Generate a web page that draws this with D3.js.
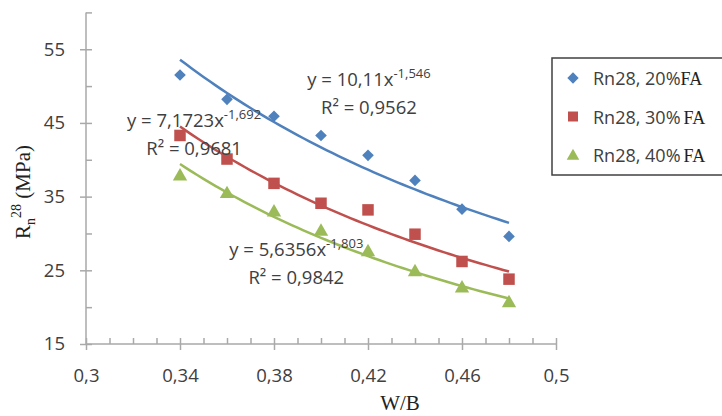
<!DOCTYPE html>
<html>
<head>
<meta charset="utf-8">
<script src="https://cdn.jsdelivr.net/npm/d3@7"></script>
<style>
  body { margin: 0; background: #fff; }
  svg { display: block; }
  .tick text { font-family: "Open Sans", sans-serif; font-size: 18.5px; fill: #404040; }
  .eq { font-family: "Open Sans", sans-serif; font-size: 18.5px; fill: #404040; }
</style>
</head>
<body>
<svg id="chart" width="722" height="416"></svg>
<script>
// W/B ratios on the x axis
const wb = [0.34, 0.36, 0.38, 0.40, 0.42, 0.44, 0.46, 0.48];
// 28-day strength, MPa
const fa20 = [51.5, 48.2, 45.9, 43.3, 40.6, 37.2, 33.3, 29.6];
const fa30 = [43.3, 40.1, 36.8, 34.1, 33.2, 29.9, 26.2, 23.8];
const fa40 = [37.9, 35.5, 33.0, 30.4, 27.6, 24.9, 22.7, 20.7];
const seriesNames = ["Rn28, 20%", "Rn28, 30%", "Rn28, 40%"];
// power trendlines y = a * x^b as printed on the chart
const trendA = [10.11, 7.1723, 5.6356];
const trendB = [-1.546, -1.692, -1.803];
const trendA_txt = ["10,11", "7,1723", "5,6356"];
const trendB_txt = ["-1,546", "-1,692", "-1,803"];
const r2_txt = ["0,9562", "0,9681", "0,9842"];

const xMajor = [0.3, 0.34, 0.38, 0.42, 0.46, 0.5];
const xMinor = [0.31, 0.32, 0.33, 0.35, 0.36, 0.37, 0.39, 0.40, 0.41, 0.43, 0.44, 0.45, 0.47, 0.48, 0.49];
const yMajor = [15, 25, 35, 45, 55];
const yMinor = [20, 30, 40, 50, 60];

const colors = ["#4f81bd", "#c0504d", "#9bbb59"];
const shapes = ["diamond", "square", "triangle"];
// where each equation label sits (data coords: centre x, baseline y)
const eqPos = [[0.4204, 50.0], [0.346, 44.5], [0.3895, 26.9]];

const svg = d3.select("#chart");
const margin = { left: 86, right: 166, top: 12.4, bottom: 72 };
const x = d3.scaleLinear().domain([0.3, 0.5]).range([margin.left, 722 - margin.right]);
const y = d3.scaleLinear().domain([15, 60]).range([416 - margin.bottom, margin.top]);

const loc = d3.formatLocale({ decimal: ",", thousands: ".", grouping: [3], currency: ["", ""] });
const fmtX = loc.format("~g");

const axisColor = "#a9a9a9";
const serif = "'Liberation Serif', 'Times New Roman', serif";

// y axis: major ticks crossing, minor ticks inside
const gy = svg.append("g").attr("transform", `translate(${margin.left},0)`)
  .call(d3.axisLeft(y).tickValues(yMajor).tickSize(6).tickPadding(15).tickFormat(d3.format("d")));
gy.selectAll(".tick line").attr("x1", 6);
svg.append("g").attr("transform", `translate(${margin.left},0)`)
  .call(d3.axisRight(y).tickValues(yMinor).tickSize(6).tickFormat(""))
  .call(g => g.select(".domain").remove());

// x axis
const gx = svg.append("g").attr("transform", `translate(0,${y(15)})`)
  .call(d3.axisBottom(x).tickValues(xMajor).tickSize(6).tickPadding(19).tickFormat(fmtX));
gx.selectAll(".tick line").attr("y1", -6);
svg.append("g").attr("transform", `translate(0,${y(15)})`)
  .call(d3.axisTop(x).tickValues(xMinor).tickSize(6).tickFormat(""))
  .call(g => g.select(".domain").remove());

svg.selectAll(".domain, .tick line").attr("stroke", axisColor).attr("stroke-width", 1.5);
// plain axis lines without end caps
gy.select(".domain").attr("d", `M0,${y(60)}V${y(15)}`);
gx.select(".domain").attr("d", `M${x(0.3)},0H${x(0.5)}`);

// trendlines
const allSeries = [fa20, fa30, fa40];
const line = d3.line().x(d => x(d[0])).y(d => y(d[1]));
allSeries.forEach((s, i) => {
  const pts = d3.range(0, 57).map(k => {
    const xv = wb[0] + (wb[wb.length - 1] - wb[0]) * k / 56;
    return [xv, trendA[i] * Math.pow(xv, trendB[i])];
  });
  svg.append("path").datum(pts).attr("d", line)
    .attr("fill", "none").attr("stroke", colors[i]).attr("stroke-width", 2.5);
});

function marker(shape, size) {
  if (shape === "diamond") return { d: d3.symbol(d3.symbolSquare, size * size)(), rot: 45 };
  if (shape === "square") return { d: d3.symbol(d3.symbolSquare, size * size)(), rot: 0 };
  return { d: d3.symbol(d3.symbolTriangle, size * size * 0.62)(), rot: 0 };
}
const markerSize = [8.2, 11.5, 12];

allSeries.forEach((s, i) => {
  const m = marker(shapes[i], markerSize[i]);
  svg.append("g").selectAll("path").data(s).join("path")
    .attr("d", m.d)
    .attr("transform", (d, k) => `translate(${x(wb[k])},${y(d) + (shapes[i] === "triangle" ? 1 : 0)}) rotate(${m.rot})`)
    .attr("fill", colors[i]);
});

// equation labels
eqPos.forEach((p, i) => {
  const t = svg.append("text").attr("class", "eq").attr("text-anchor", "middle")
    .attr("x", x(p[0])).attr("y", y(p[1]));
  t.append("tspan").text(`y = ${trendA_txt[i]}x`);
  t.append("tspan").attr("dy", -8).attr("font-size", 13).text(trendB_txt[i]);
  svg.append("text").attr("class", "eq").attr("text-anchor", "middle")
    .attr("x", x(p[0])).attr("y", y(p[1]) + 28)
    .text(`R² = ${r2_txt[i]}`);
});

// axis titles
const yt = svg.append("text")
  .attr("transform", "translate(30,192) rotate(-90)")
  .attr("text-anchor", "middle")
  .attr("font-family", serif)
  .attr("font-size", 21).attr("fill", "#222");
yt.append("tspan").text("R");
yt.append("tspan").attr("font-size", 14).attr("dy", 5).text("n");
yt.append("tspan").attr("font-size", 14).attr("dy", -14).text("28");
yt.append("tspan").attr("dy", 9).text(" (MPa)");

svg.append("text")
  .attr("x", 400).attr("y", 410).attr("text-anchor", "middle")
  .attr("font-family", serif)
  .attr("font-size", 21).attr("fill", "#222").text("W/B");

// legend
const lg = svg.append("g");
lg.append("rect").attr("x", 552).attr("y", 58).attr("width", 200).attr("height", 117)
  .attr("fill", "#fff").attr("stroke", "#404040").attr("stroke-width", 1.5);
const legendMarker = [8, 10, 10.5];
seriesNames.forEach((name, i) => {
  const cy = 78 + i * 38.5;
  const m = marker(shapes[i], legendMarker[i]);
  lg.append("path").attr("d", m.d)
    .attr("transform", `translate(573,${cy + (shapes[i] === "triangle" ? 1 : 0)}) rotate(${m.rot})`)
    .attr("fill", colors[i]);
  const t = lg.append("text").attr("x", 593).attr("y", cy + 7)
    .attr("font-family", "'Open Sans', sans-serif").attr("font-size", 18).attr("fill", "#404040");
  t.append("tspan").text(name);
  t.append("tspan").attr("font-family", serif)
    .attr("dx", i === 0 ? 0 : 3).attr("fill", "#222").text("FA");
});
</script>
</body>
</html>
